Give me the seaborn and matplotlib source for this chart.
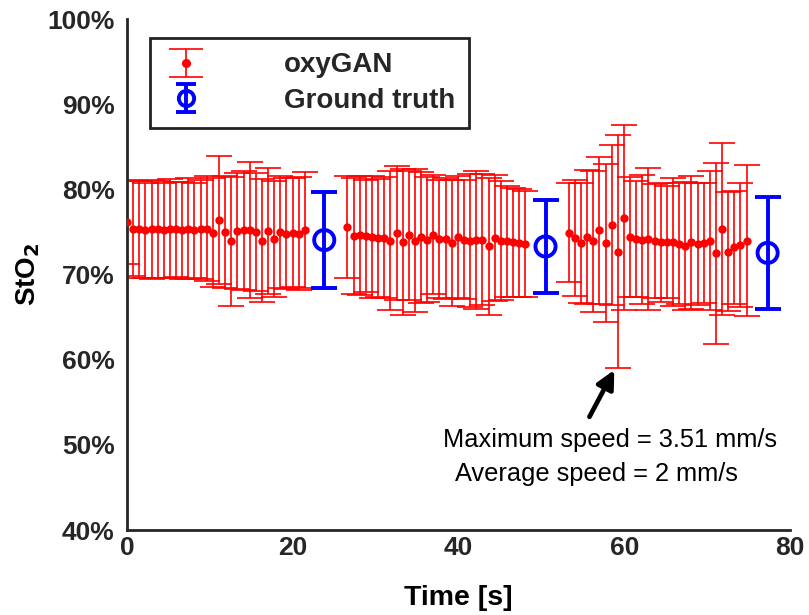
import matplotlib
matplotlib.use("Agg")
import matplotlib.pyplot as plt
from matplotlib.ticker import FuncFormatter, FixedLocator
import seaborn as sns
import pandas as pd

# oxyGAN estimates: time [s], mean StO2 [%], error half-width [%]
t_seg1 = [0.00, 0.74, 1.48, 2.22, 2.96, 3.70, 4.44, 5.18, 5.92, 6.66,
          7.40, 8.14, 8.88, 9.62, 10.36, 11.10, 11.84, 12.58, 13.32, 14.06,
          14.80, 15.54, 16.28, 17.02, 17.76, 18.50, 19.24, 19.98, 20.72, 21.46]
m_seg1 = [76.2, 75.4, 75.3, 75.2, 75.3, 75.3, 75.2, 75.4, 75.3, 75.2,
          75.4, 75.2, 75.3, 75.4, 74.9, 76.4, 75.0, 73.9, 75.1, 75.2,
          75.2, 75.0, 74.0, 75.1, 74.2, 75.0, 74.8, 74.9, 74.8, 75.2]
e_seg1 = [4.9, 5.6, 5.7, 5.6, 5.8, 5.7, 5.6, 5.8, 5.6, 5.7,
          5.9, 5.6, 5.8, 6.2, 6.4, 7.5, 6.6, 7.6, 6.8, 7.0,
          8.0, 6.9, 7.2, 7.4, 6.8, 6.6, 6.5, 6.4, 6.6, 6.8]

t_seg2 = [26.60, 27.34, 28.08, 28.82, 29.56, 30.30, 31.04, 31.78, 32.52, 33.26,
          34.00, 34.74, 35.48, 36.22, 36.96, 37.70, 38.44, 39.18, 39.92, 40.66,
          41.40, 42.14, 42.88, 43.62, 44.36, 45.10, 45.84, 46.58, 47.32, 48.06]
m_seg2 = [75.6, 74.5, 74.6, 74.5, 74.4, 74.3, 74.3, 74.0, 74.9, 73.8,
          74.6, 74.0, 74.4, 74.1, 74.7, 74.2, 74.2, 73.7, 74.4, 74.1,
          74.0, 74.1, 74.1, 73.3, 74.3, 74.0, 73.9, 73.8, 73.7, 73.6]
e_seg2 = [6.0, 6.8, 7.0, 6.6, 7.2, 6.9, 7.1, 8.2, 7.9, 8.6,
          7.6, 8.4, 7.7, 7.3, 7.0, 6.9, 7.1, 7.4, 7.2, 7.0,
          7.8, 8.1, 7.7, 8.0, 7.4, 7.0, 6.5, 6.4, 6.3, 6.2]

t_seg3 = [53.30, 54.04, 54.78, 55.52, 56.26, 57.00, 57.74, 58.48, 59.22, 59.96,
          60.70, 61.44, 62.18, 62.92, 63.66, 64.40, 65.14, 65.88, 66.62, 67.36,
          68.10, 68.84, 69.58, 70.32, 71.06, 71.80, 72.54, 73.28, 74.02, 74.76]
m_seg3 = [74.9, 74.3, 73.7, 74.4, 73.9, 75.2, 73.7, 75.8, 72.7, 76.7,
          74.4, 74.2, 74.1, 74.2, 73.9, 73.8, 73.8, 73.8, 73.6, 73.4,
          73.8, 73.6, 73.7, 74.0, 72.5, 75.4, 72.7, 73.2, 73.5, 74.0]
e_seg3 = [5.8, 6.8, 7.0, 7.9, 8.3, 8.6, 9.3, 9.4, 13.7, 10.9,
          7.0, 6.8, 7.6, 8.3, 6.7, 7.0, 6.6, 7.5, 7.1, 7.5,
          7.8, 7.2, 7.0, 8.2, 10.6, 10.1, 7.0, 6.6, 7.3, 8.9]

# Ground-truth measurements
t_gt = [23.8, 50.5, 77.3]
m_gt = [74.05, 73.3, 72.55]
e_gt = [5.65, 5.5, 6.55]

x_ticks = [0, 20, 40, 60, 80]
y_ticks = [40, 50, 60, 70, 80, 90, 100]

oxy = pd.DataFrame({
    "time": t_seg1 + t_seg2 + t_seg3,
    "sto2": m_seg1 + m_seg2 + m_seg3,
    "err": e_seg1 + e_seg2 + e_seg3,
})
gt = pd.DataFrame({"time": t_gt, "sto2": m_gt, "err": e_gt})

sns.set_theme(style="white")
plt.rcParams["font.family"] = ["Liberation Sans", "DejaVu Sans"]

fig = plt.figure(figsize=(8.09, 6.15), dpi=100)
ax = fig.add_axes([0.157, 0.138, 0.8195, 0.831])

red = "#ff0000"
blue = "#0000ff"

ax.errorbar(oxy["time"], oxy["sto2"], yerr=oxy["err"], fmt="none",
            ecolor=red, elinewidth=1.2, capsize=9.5, capthick=1.2, zorder=2)
sns.scatterplot(data=oxy, x="time", y="sto2", ax=ax, color=red, s=36,
                edgecolor=red, linewidth=0, zorder=3, legend=False)

ax.errorbar(gt["time"], gt["sto2"], yerr=gt["err"], fmt="none",
            ecolor=blue, elinewidth=2.8, capsize=9.5, capthick=2.8, zorder=4)
sns.scatterplot(data=gt, x="time", y="sto2", ax=ax, marker="o", s=210,
                facecolor="none", edgecolor=blue, linewidth=2.8, zorder=5,
                legend=False)

# legend handles drawn off-canvas so they carry both marker and error bar
leg_oxy = ax.errorbar([-100], [0], yerr=[1], fmt="o", color=red, ms=5.5,
                      elinewidth=1.2, capsize=12, capthick=1.2)
leg_gt = ax.errorbar([-100], [0], yerr=[1], fmt="o", color=blue, ms=11,
                     mfc="none", mew=2.8, elinewidth=2.8, capsize=7, capthick=2.8)

ax.set_xlim(0, 80)
ax.set_ylim(40, 100)
ax.xaxis.set_major_locator(FixedLocator(x_ticks))
ax.yaxis.set_major_locator(FixedLocator(y_ticks))
ax.yaxis.set_major_formatter(FuncFormatter(lambda v, _: f"{v:.0f}%"))

tick_color = "#262626"
ax.tick_params(axis="both", direction="in", length=6, width=2,
               color=tick_color, labelcolor=tick_color, labelsize=19)
ax.tick_params(axis="y", pad=9)
ax.tick_params(axis="x", pad=4)
for lab in ax.get_xticklabels() + ax.get_yticklabels():
    lab.set_fontweight("bold")

sns.despine(ax=ax)
for side in ("left", "bottom"):
    ax.spines[side].set_color(tick_color)
    ax.spines[side].set_linewidth(2)

ax.set_xlabel("Time [s]", fontsize=20.5, fontweight="bold", color="black", labelpad=18)
ax.set_ylabel("StO$_\\mathbf{2}$", fontsize=20, fontweight="bold", color="black", labelpad=4)

leg = ax.legend([leg_oxy, leg_gt], ["oxyGAN", "Ground truth"],
                loc="upper left", bbox_to_anchor=(0.035, 0.962),
                frameon=True, fancybox=False, framealpha=1,
                prop={"weight": "bold", "size": 20},
                handlelength=1.6, handletextpad=2.7, borderpad=0.5,
                borderaxespad=0, labelspacing=0.35)
leg.get_frame().set_edgecolor("#222222")
leg.get_frame().set_linewidth(2)
leg._legend_box.align = "left"

ax.annotate("", xy=(58.8, 58.8), xytext=(55.8, 53.3),
            arrowprops=dict(arrowstyle="-|>,head_length=0.9,head_width=0.45",
                            color="black", lw=3.4, shrinkA=0, shrinkB=0))
ax.text(58.3, 50.6, "Maximum speed = 3.51 mm/s", fontsize=18.3, ha="center", va="center", color="black")
ax.text(56.7, 46.6, "Average speed = 2 mm/s", fontsize=18.3, ha="center", va="center", color="black")

fig.savefig("out.png", dpi=100)
